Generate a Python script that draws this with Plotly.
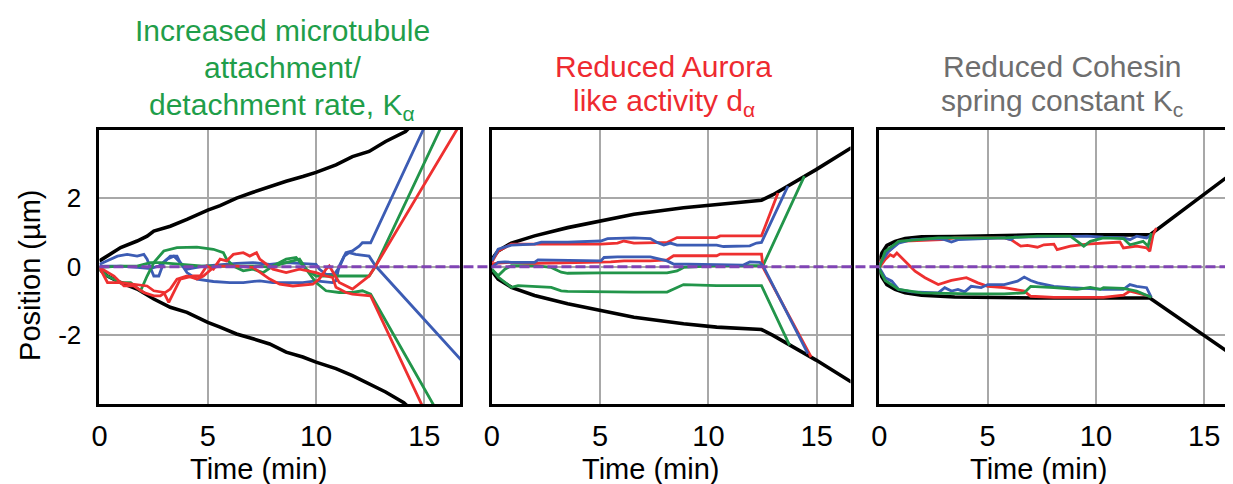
import plotly.graph_objects as go

# ---------------- data (time in min, position in µm) ----------------
x_ticks = [0, 5, 10, 15]
y_ticks = [-2, 0, 2]
y_tick_text = ["-2", "0", "2"]

# Panel 1 : increased attachment/detachment rate
p1_env_up_t = [0, 0.37, 0.98, 1.74, 2.20, 2.51, 3.27, 4.04, 5.0, 5.57, 6.33, 7.09, 7.86, 8.62, 9.39, 10.0, 10.92, 11.68, 12.45, 13.21, 14.13, 14.3]
p1_env_up_y = [0.17, 0.31, 0.56, 0.75, 0.89, 1.04, 1.18, 1.38, 1.65, 1.78, 2.0, 2.17, 2.34, 2.49, 2.63, 2.75, 2.97, 3.21, 3.36, 3.65, 3.94, 4.05]
p1_env_lo_t = [0, 0.37, 0.98, 1.74, 2.51, 3.27, 4.04, 5.0, 5.57, 6.33, 7.09, 7.86, 8.62, 9.39, 10.0, 10.92, 11.68, 12.45, 13.21, 14.05, 14.2]
p1_env_lo_y = [-0.07, -0.27, -0.46, -0.65, -0.94, -1.18, -1.33, -1.62, -1.76, -1.96, -2.10, -2.25, -2.49, -2.63, -2.78, -2.97, -3.17, -3.41, -3.65, -3.96, -4.05]

p1_blue_a_t = [0, 0.83, 1.28, 1.74, 2.05, 2.20, 2.35, 2.51, 2.74, 2.97, 3.27, 3.58, 3.73, 4.04, 4.50, 5.26, 6.02, 6.64, 7.40, 8.01, 8.62, 9.39, 10.0, 10.76, 10.92, 11.07, 11.38, 11.68, 11.99, 12.14, 12.52, 15.1]
p1_blue_a_y = [0.07, 0.31, 0.36, 0.31, 0.36, 0.22, -0.02, -0.27, -0.27, 0.12, 0.31, 0.31, 0.12, -0.17, -0.36, -0.43, -0.46, -0.46, -0.41, -0.46, -0.46, -0.46, -0.41, -0.46, -0.41, 0.02, 0.41, 0.46, 0.60, 0.70, 0.70, 4.2]
p1_blue_b_t = [0, 0.98, 1.74, 2.35, 2.74, 3.12, 3.43, 3.73, 4.04, 4.80, 5.57, 6.33, 7.09, 7.86, 8.62, 9.39, 10.0, 10.15, 10.46, 10.84, 11.07, 11.30, 11.53, 11.83, 12.45, 12.75, 16.7]
p1_blue_b_y = [0.02, 0.02, -0.02, -0.05, 0.02, 0.22, 0.31, 0.12, -0.07, 0.02, 0.07, 0.10, 0.12, 0.07, 0.12, 0.10, 0.07, -0.07, -0.22, -0.22, -0.02, 0.31, 0.41, 0.36, 0.31, 0.02, -2.72]
p1_green_a_t = [0, 0.37, 0.98, 1.44, 1.90, 2.20, 2.51, 2.97, 3.58, 4.50, 5.26, 5.72, 5.87, 6.18, 6.64, 7.09, 7.55, 8.01, 8.62, 9.08, 9.54, 10.0, 10.46, 11.07, 11.68, 12.14, 12.52, 15.49]
p1_green_a_y = [-0.07, -0.27, -0.46, -0.46, -0.70, -0.27, 0.12, 0.46, 0.56, 0.57, 0.51, 0.41, 0.22, 0.02, -0.12, -0.07, -0.17, 0.02, 0.22, 0.27, -0.07, -0.46, -0.70, -0.75, -0.75, -0.70, -0.80, -4.1]
p1_green_b_t = [0, 0.98, 1.74, 2.35, 2.81, 4.04, 4.80, 5.87, 6.79, 7.40, 7.86, 8.32, 8.62, 9.24, 9.54, 10.0, 10.46, 12.45, 12.75, 15.8]
p1_green_b_y = [-0.02, 0.02, 0.02, 0.12, 0.12, 0.07, 0.02, 0.02, 0.02, 0.02, -0.02, 0.07, 0.12, 0.22, -0.07, -0.27, -0.27, -0.27, 0.02, 4.1]
p1_red_a_t = [0, 0.37, 0.98, 1.74, 2.20, 2.51, 2.97, 3.20, 3.43, 3.73, 4.34, 4.65, 4.95, 5.26, 5.57, 5.87, 6.18, 6.64, 6.94, 7.25, 7.40, 8.01, 8.62, 9.24, 10.0, 10.46, 10.76, 10.92, 11.38, 11.68, 12.52, 14.94]
p1_red_a_y = [-0.02, -0.46, -0.46, -0.51, -0.56, -0.70, -0.75, -1.04, -0.75, -0.36, -0.27, -0.27, 0.02, -0.07, 0.22, 0.17, 0.36, 0.41, 0.31, 0.41, 0.22, -0.07, -0.17, -0.07, -0.17, -0.27, -0.31, -0.60, -0.75, -0.80, -0.85, -4.1]
p1_red_b_t = [0, 0.67, 1.13, 1.59, 2.05, 2.51, 2.81, 3.27, 3.58, 4.04, 4.50, 4.80, 5.26, 5.57, 6.33, 7.09, 7.86, 8.32, 8.93, 9.85, 10.15, 10.46, 10.61, 11.07, 11.68, 12.45, 12.75, 16.6]
p1_red_b_y = [-0.02, -0.27, -0.56, -0.56, -0.75, -0.85, -0.85, -0.65, -0.36, -0.27, -0.36, -0.27, -0.02, 0.02, 0.02, -0.02, -0.36, -0.51, -0.56, -0.51, -0.36, -0.07, 0.02, -0.46, -0.65, -0.27, 0.02, 4.1]

# Panel 2 : reduced Aurora-like activity
p2_env_t = [0, 0.29, 0.9, 1.97, 3.5, 4.98, 6.56, 8.85, 10.38, 12.45, 12.98, 14.97, 16.6]
p2_env_up_y = [0.22, 0.46, 0.69, 0.90, 1.14, 1.33, 1.53, 1.72, 1.82, 1.94, 2.10, 2.83, 3.47]
p2_env_lo_y = [-0.12, -0.36, -0.60, -0.84, -1.08, -1.28, -1.47, -1.66, -1.76, -1.83, -2.0, -2.72, -3.36]

p2_red_a_t = [0, 0.29, 0.9, 2.74, 5.03, 5.80, 6.10, 6.56, 7.32, 8.09, 8.55, 10.38, 10.54, 12.45, 13.21]
p2_red_a_y = [0.13, 0.46, 0.66, 0.66, 0.66, 0.69, 0.75, 0.69, 0.71, 0.71, 0.85, 0.85, 0.90, 0.90, 2.15]
p2_blue_a_t = [0, 0.29, 0.9, 1.97, 2.28, 3.50, 5.03, 5.34, 6.56, 7.32, 7.63, 7.94, 8.24, 8.55, 10.38, 10.69, 11.91, 12.22, 12.45, 13.67]
p2_blue_a_y = [0.17, 0.51, 0.63, 0.66, 0.72, 0.72, 0.75, 0.82, 0.84, 0.82, 0.71, 0.63, 0.69, 0.63, 0.63, 0.59, 0.61, 0.69, 0.71, 2.35]
p2_red_b_t = [0, 0.29, 0.9, 1.97, 2.74, 4.27, 5.03, 5.49, 6.10, 7.32, 8.09, 8.39, 10.38, 10.54, 12.45, 12.52, 14.74]
p2_red_b_y = [0.08, 0.11, 0.13, 0.10, 0.11, 0.13, 0.15, 0.14, 0.17, 0.17, 0.20, 0.32, 0.32, 0.37, 0.37, -0.02, -2.63]
p2_blue_b_t = [0, 0.29, 0.60, 0.90, 1.97, 2.13, 5.03, 5.18, 5.80, 7.32, 8.09, 8.39, 10.38, 11.61, 11.91, 12.37, 12.52, 14.59]
p2_blue_b_y = [-0.02, 0.13, 0.14, 0.13, 0.13, 0.20, 0.17, 0.27, 0.29, 0.29, 0.17, 0.08, 0.06, 0.05, 0.14, 0.13, 0.03, -2.53]
p2_green_a_t = [0, 0.29, 0.60, 0.90, 1.97, 2.74, 3.20, 3.50, 5.03, 6.56, 8.09, 8.55, 8.85, 10.38, 12.52, 14.43]
p2_green_a_y = [-0.07, -0.26, -0.07, 0.03, 0.03, -0.02, -0.16, -0.19, -0.18, -0.18, -0.18, -0.12, -0.02, 0.03, 0.03, 2.64]
p2_green_b_t = [0, 0.29, 0.90, 1.21, 2.74, 3.20, 3.50, 5.03, 6.56, 8.09, 8.55, 8.85, 10.38, 12.45, 13.75]
p2_green_b_y = [-0.07, -0.30, -0.60, -0.55, -0.60, -0.70, -0.72, -0.74, -0.74, -0.74, -0.60, -0.52, -0.55, -0.55, -2.29]

# Panel 3 : reduced cohesin spring constant
p3_env_up_t = [0, 0.12, 0.35, 0.73, 1.19, 1.95, 3.48, 5.0, 7.3, 10.35, 12.49, 16.6]
p3_env_up_y = [0.16, 0.40, 0.62, 0.74, 0.82, 0.87, 0.88, 0.90, 0.93, 0.93, 0.93, 2.87]
p3_env_lo_t = [0, 0.12, 0.35, 0.73, 1.19, 1.95, 3.48, 7.3, 12.49, 14.93, 16.6]
p3_env_lo_y = [-0.08, -0.30, -0.52, -0.66, -0.76, -0.83, -0.88, -0.91, -0.91, -1.97, -2.70]

p3_red_a_t = [0, 0.27, 0.89, 2.87, 3.48, 5.77, 6.08, 6.53, 6.84, 7.30, 7.60, 8.06, 8.21, 8.82, 9.59, 10.35, 11.11, 11.27, 11.88, 12.34, 12.49, 12.64, 12.79]
p3_red_a_y = [0.11, 0.35, 0.74, 0.79, 0.84, 0.84, 0.79, 0.60, 0.62, 0.57, 0.64, 0.66, 0.50, 0.60, 0.66, 0.69, 0.72, 0.55, 0.60, 0.55, 0.45, 0.93, 1.13]
p3_red_b_t = [0, 0.27, 0.50, 0.66, 0.81, 1.19, 1.65, 2.11, 2.72, 3.33, 4.02, 4.55, 5.01, 5.77, 6.69, 6.99, 8.06, 10.35, 11.27, 11.57, 11.88, 12.49]
p3_red_b_y = [-0.03, 0.21, 0.35, 0.30, 0.40, 0.16, -0.13, -0.32, -0.52, -0.40, -0.32, -0.47, -0.57, -0.61, -0.71, -0.86, -0.89, -0.89, -0.83, -0.71, -0.76, -0.86]
p3_blue_a_t = [0, 0.43, 0.89, 1.50, 2.72, 3.02, 3.33, 3.63, 5.77, 6.08, 6.23, 9.59, 10.35, 11.27, 11.57, 11.88, 12.34, 12.56]
p3_blue_a_y = [0.06, 0.45, 0.69, 0.79, 0.82, 0.79, 0.72, 0.79, 0.84, 0.79, 0.86, 0.89, 0.86, 0.84, 0.79, 0.89, 0.84, 0.93]
p3_blue_b_t = [0, 0.27, 0.58, 0.89, 1.50, 2.72, 3.02, 3.33, 3.63, 3.94, 4.24, 4.70, 5.01, 5.77, 6.38, 6.69, 6.99, 7.30, 8.06, 8.82, 10.35, 11.27, 11.57, 11.88, 12.34, 12.56]
p3_blue_b_y = [-0.03, -0.32, -0.42, -0.66, -0.73, -0.76, -0.61, -0.71, -0.66, -0.73, -0.57, -0.61, -0.52, -0.52, -0.42, -0.30, -0.40, -0.47, -0.57, -0.61, -0.66, -0.66, -0.52, -0.57, -0.61, -0.89]
p3_green_a_t = [0, 0.27, 0.89, 2.72, 5.77, 6.53, 7.30, 8.82, 9.13, 9.44, 9.74, 10.35, 11.27, 11.57, 11.88, 12.18, 12.41, 12.56]
p3_green_a_y = [-0.03, 0.45, 0.74, 0.84, 0.84, 0.86, 0.89, 0.89, 0.74, 0.60, 0.74, 0.84, 0.82, 0.64, 0.69, 0.74, 0.60, 0.98]
p3_green_b_t = [0, 0.27, 0.89, 1.95, 4.24, 5.77, 6.69, 6.99, 8.06, 9.13, 9.74, 10.20, 10.35, 11.27, 11.88, 12.56]
p3_green_b_y = [-0.08, -0.40, -0.66, -0.76, -0.79, -0.79, -0.76, -0.57, -0.61, -0.66, -0.60, -0.66, -0.61, -0.63, -0.71, -0.89]

panel_titles = [
    ["Increased microtubule", "attachment/", "detachment rate, K<sub>α</sub>"],
    ["Reduced Aurora", "like activity d<sub>α</sub>"],
    ["Reduced Cohesin", "spring constant K<sub>c</sub>"],
]
title_colors = ["#1f9e4a", "#ee2a30", "#6e6e6e"]
x_title = "Time (min)"
y_title = "Position (µm)"

# ---------------- styling ----------------
BLUE, RED, GREEN, BLACK = "#3c5cb4", "#ee3030", "#22954a", "#000000"
FONT = "Liberation Sans, Arial, sans-serif"
OFF = 8                      # default page margin of the html body
W, H = 1233 - OFF, 484 - OFF


def px_x(p):
    return (p - OFF) / W


def px_y(p):
    return 1 - (p - OFF) / H


panels = [
    dict(env=[(p1_env_up_t, p1_env_up_y), (p1_env_lo_t, p1_env_lo_y)],
         lines=[(p1_blue_a_t, p1_blue_a_y, BLUE), (p1_blue_b_t, p1_blue_b_y, BLUE),
                (p1_green_a_t, p1_green_a_y, GREEN), (p1_green_b_t, p1_green_b_y, GREEN),
                (p1_red_a_t, p1_red_a_y, RED), (p1_red_b_t, p1_red_b_y, RED)]),
    dict(env=[(p2_env_t, p2_env_up_y), (p2_env_t, p2_env_lo_y)],
         lines=[(p2_green_a_t, p2_green_a_y, GREEN), (p2_green_b_t, p2_green_b_y, GREEN),
                (p2_red_a_t, p2_red_a_y, RED), (p2_red_b_t, p2_red_b_y, RED),
                (p2_blue_a_t, p2_blue_a_y, BLUE), (p2_blue_b_t, p2_blue_b_y, BLUE)]),
    dict(env=[(p3_env_up_t, p3_env_up_y), (p3_env_lo_t, p3_env_lo_y)],
         lines=[(p3_red_a_t, p3_red_a_y, RED), (p3_red_b_t, p3_red_b_y, RED),
                (p3_blue_a_t, p3_blue_a_y, BLUE), (p3_blue_b_t, p3_blue_b_y, BLUE),
                (p3_green_a_t, p3_green_a_y, GREEN), (p3_green_b_t, p3_green_b_y, GREEN)]),
]

# page-pixel geometry of the three frames
x_px = [(92, 455), (487, 848), (877, 1233)]
x_ranges = [[0, 16.65], [0, 16.56], [0, (1233 - 877) / 21.8]]
y_px = (129.5, 404)
title_cx = [276, 660, 1061]
title_base = [[39, 76, 113], [75, 109], [75, 109]]

fig = go.Figure()
for i, p in enumerate(panels):
    ax = "" if i == 0 else str(i + 1)
    for (t, y) in p["env"]:
        fig.add_trace(go.Scatter(x=t, y=y, mode="lines", line=dict(color=BLACK, width=3.6),
                                 xaxis="x" + ax, yaxis="y" + ax, showlegend=False, hoverinfo="skip"))
    for (t, y, c) in p["lines"]:
        fig.add_trace(go.Scatter(x=t, y=y, mode="lines", line=dict(color=c, width=2.8),
                                 xaxis="x" + ax, yaxis="y" + ax, showlegend=False, hoverinfo="skip"))

layout = dict(width=W, height=H, margin=dict(l=0, r=0, t=0, b=0, pad=0),
              paper_bgcolor="white", plot_bgcolor="white",
              font=dict(family=FONT, color="black", size=29), showlegend=False)

ydom = [px_y(y_px[1]), px_y(y_px[0])]
for i in range(3):
    ax = "" if i == 0 else str(i + 1)
    layout["xaxis" + ax] = dict(
        domain=[px_x(x_px[i][0]), px_x(x_px[i][1])], range=x_ranges[i], anchor="y" + ax,
        tickvals=x_ticks, ticktext=[str(v) for v in x_ticks], showgrid=True, gridcolor="#a8a8a8",
        gridwidth=1.8, zeroline=False, showline=True, linecolor="black", linewidth=3, mirror=True,
        ticks="outside", ticklen=4, tickcolor="rgba(0,0,0,0)", tickfont=dict(size=29, family=FONT))
    layout["yaxis" + ax] = dict(
        domain=ydom, range=[-4, 4], anchor="x" + ax, tickvals=y_ticks, ticktext=y_tick_text,
        showticklabels=(i == 0), showgrid=True, gridcolor="#a8a8a8", gridwidth=1.8, zeroline=False,
        showline=True, linecolor="black", linewidth=3, mirror=(i < 2),
        ticks="outside", ticklen=10, tickcolor="rgba(0,0,0,0)", tickfont=dict(size=26, family=FONT))

annotations = []
for i in range(3):
    for line, base in zip(panel_titles[i], title_base[i]):
        annotations.append(dict(text=line, x=px_x(title_cx[i]), y=px_y(base - 27), xref="paper",
                                yref="paper", xanchor="center", yanchor="top", showarrow=False,
                                font=dict(size=30, color=title_colors[i], family=FONT)))
    ax = "" if i == 0 else str(i + 1)
    annotations.append(dict(text=x_title, x=7.34, y=px_y(451), xref="x" + ax, yref="paper",
                            xanchor="center", yanchor="top", showarrow=False,
                            font=dict(size=29, color="black", family=FONT)))
annotations.append(dict(text=y_title, x=px_x(22), y=px_y(275), xref="paper", yref="paper",
                        xanchor="center", yanchor="middle", textangle=-90, showarrow=False,
                        font=dict(size=29, color="black", family=FONT)))
layout["annotations"] = annotations
layout["shapes"] = [dict(type="line", xref="paper", yref="y", x0=px_x(92), x1=1, y0=0, y1=0,
                         line=dict(color="#8044b4", width=2.8, dash="10px,4px"), layer="above")]

fig.update_layout(**layout)
fig.write_html("out.html")
